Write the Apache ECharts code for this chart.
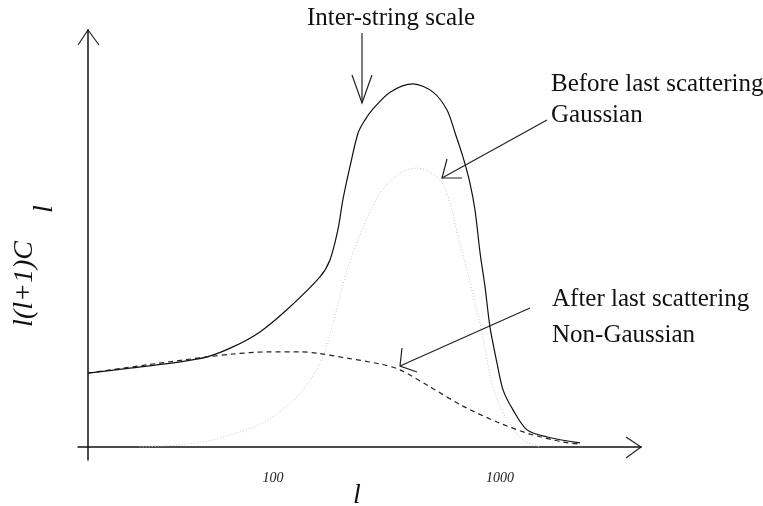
<!DOCTYPE html>
<html>
<head>
    <meta charset="utf-8">
    <title>l(l+1)C_l</title>
    <script src="https://cdn.jsdelivr.net/npm/echarts@6/dist/echarts.min.js"></script>
    <style>
        html, body { margin: 0; padding: 0; background: #fff; }
    </style>
</head>
<body>
<div id="main" style="width: 763px;height:506px;"></div>
<script>
    // multipole l and amplitude (arbitrary units, 0 = x axis)
    var solidL = [15.3, 23.4, 38.9, 51.2, 66.6, 87.6, 115, 161, 178, 193, 203, 218, 237, 254, 273, 328, 414, 507, 584, 634, 687, 737, 776, 817, 859, 903, 970, 1031, 1141, 1315, 1611, 2251];
    var solidY = [17.7, 18.9, 20.4, 21.6, 24.0, 27.6, 32.9, 40.8, 44.8, 52.0, 59.2, 67.1, 75.3, 78.4, 80.8, 85.1, 87.1, 85.1, 80.8, 75.3, 69.5, 63.3, 56.8, 46.5, 38.4, 28.8, 20.1, 13.7, 8.9, 4.1, 2.4, 1.0];

    var dashedL = [15.3, 27.9, 51.2, 66.6, 94.1, 131.5, 156, 212, 296, 363, 492, 687, 970, 1356, 1895, 2251];
    var dashedY = [17.7, 19.7, 21.6, 22.3, 22.8, 22.8, 22.5, 21.3, 19.9, 18.5, 14.4, 9.8, 6.0, 3.1, 1.2, 0.7];

    var dottedL = [25.9, 38.9, 54.4, 90.3, 127.5, 161, 183.8, 211.8, 246.7, 296, 362.6, 430.9, 544, 602, 653, 715.5, 776, 841.8, 903, 970, 1074, 1263, 1500];
    var dottedY = [0, 0.5, 1.7, 5.8, 12.0, 20.1, 29.7, 42.4, 52.0, 60.9, 65.7, 66.9, 64.0, 58.5, 50.4, 42.4, 34.5, 26.4, 17.3, 11.5, 6.5, 1.7, 0];

    var tickValues = [100, 1000];

    function toPoints(ls, ys) {
        return ls.map(function (l, i) { return [Math.log10(l), ys[i]]; });
    }

    var serif = '"Liberation Serif", "DejaVu Serif", serif';
    var ink = '#222';

    function arrowHead(pts) {
        return { type: 'polyline', shape: { points: pts }, style: { stroke: ink, lineWidth: 1.2, fill: null } };
    }
    function seg(x1, y1, x2, y2) {
        return { type: 'line', shape: { x1: x1, y1: y1, x2: x2, y2: y2 }, style: { stroke: ink, lineWidth: 1.2 } };
    }
    function label(x, y, text, extra) {
        var st = { text: text, x: x, y: y, font: '25px ' + serif, fill: '#111', align: 'left', verticalAlign: 'middle' };
        for (var k in extra) { st[k] = extra[k]; }
        return { type: 'text', style: st };
    }

    var myChart = echarts.init(document.getElementById('main'));

    var option = {
        animation: false,
        grid: { left: 78, right: 122, top: 30, bottom: 46 },
        xAxis: {
            type: 'value',
            min: 1.141,
            max: 3.621,
            axisLine: { onZero: true, lineStyle: { color: '#111', width: 1.5 } },
            axisTick: { show: false },
            splitLine: { show: false },
            axisLabel: {
                customValues: tickValues.map(function (v) { return Math.log10(v); }),
                formatter: function (v) { return String(Math.round(Math.pow(10, v))); },
                margin: 11,
                fontFamily: serif,
                fontStyle: 'italic',
                fontSize: 14,
                color: '#222'
            }
        },
        yAxis: {
            type: 'value',
            min: -3.12,
            max: 100,
            offset: -10,
            axisLine: { show: true, onZero: false, lineStyle: { color: '#111', width: 1.5 } },
            axisTick: { show: false },
            axisLabel: { show: false },
            splitLine: { show: false }
        },
        series: [
            {
                name: 'Gaussian',
                type: 'line',
                data: toPoints(dottedL, dottedY),
                symbol: 'none',
                smooth: 0.3,
                lineStyle: { color: '#c4c4c4', width: 1, type: [1, 2] }
            },
            {
                name: 'Non-Gaussian',
                type: 'line',
                data: toPoints(dashedL, dashedY),
                symbol: 'none',
                smooth: 0.3,
                lineStyle: { color: ink, width: 1.2, type: [5, 4] }
            },
            {
                name: 'Total',
                type: 'line',
                data: toPoints(solidL, solidY),
                symbol: 'none',
                smooth: 0.3,
                lineStyle: { color: '#111', width: 1.2 }
            }
        ],
        graphic: [
            // axis arrow heads
            arrowHead([[78, 45], [88, 30], [99, 45]]),
            arrowHead([[626, 437], [641, 447], [626, 458]]),

            // annotations
            label(307, 18, 'Inter-string scale'),
            seg(362, 33, 362, 103),
            arrowHead([[352, 75], [362, 103], [372, 75]]),

            label(551, 84, 'Before last scattering'),
            label(551, 115, 'Gaussian'),
            seg(547, 120, 442, 178),
            arrowHead([[447, 159], [442, 178], [462, 178]]),

            label(552, 299, 'After last scattering'),
            label(552, 335, 'Non-Gaussian'),
            seg(530, 308, 400, 366),
            arrowHead([[402, 348], [400, 366], [417, 372]]),

            // axis names
            label(357, 496, 'l', { font: 'italic 28px ' + serif, align: 'center' }),
            {
                type: 'text', x: 25, y: 284, rotation: Math.PI / 2,
                style: { text: 'l(l+1)C', x: 0, y: 0, font: 'italic 28px ' + serif, fill: '#111', align: 'center', verticalAlign: 'middle' }
            },
            {
                type: 'text', x: 45, y: 209, rotation: Math.PI / 2,
                style: { text: 'l', x: 0, y: 0, font: 'italic 28px ' + serif, fill: '#111', align: 'center', verticalAlign: 'middle' }
            }
        ]
    };

    myChart.setOption(option);
</script>
</body>
</html>
